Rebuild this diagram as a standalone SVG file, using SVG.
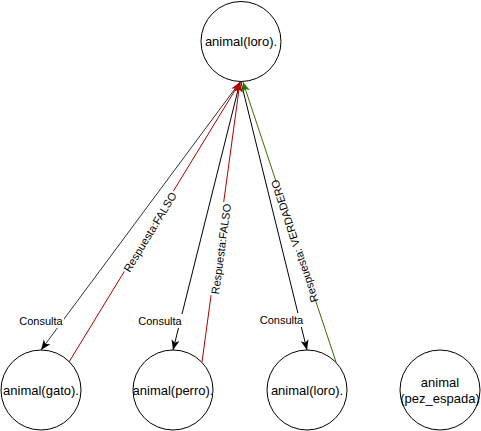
<svg xmlns="http://www.w3.org/2000/svg" width="481" height="431" viewBox="0 0 481 431">
<style>
.node{fill:#ffffff;stroke:#000000;stroke-width:1}
.t{font-family:"Liberation Sans",Arial,Helvetica,sans-serif;font-size:13px;fill:#000;text-anchor:middle;dominant-baseline:central}
.lbl{font-family:"Liberation Sans",Arial,Helvetica,sans-serif;font-size:11px;fill:#000;text-anchor:middle;dominant-baseline:central}
.e{fill:none;stroke-width:1}
.bg{fill:#ffffff;stroke:none}
</style>
<defs>
<marker id="aBlack" markerUnits="userSpaceOnUse" markerWidth="11" markerHeight="9" refX="10" refY="4" orient="auto"><path d="M0,0 L10,4 L0,8 L2.5,4 z" fill="#000"/></marker>
<marker id="aRed" markerUnits="userSpaceOnUse" markerWidth="11" markerHeight="9" refX="10" refY="4" orient="auto"><path d="M0,0 L10,4 L0,8 L2.5,4 z" fill="#b20000"/></marker>
<marker id="aGreen" markerUnits="userSpaceOnUse" markerWidth="11" markerHeight="9" refX="10" refY="4" orient="auto"><path d="M0,0 L10,4 L0,8 L2.5,4 z" fill="#2d7600"/></marker>
</defs>
<g id="connectors">
<g id="e-gato-q"><path class="e" d="M240,82 L41,350" stroke="#333333" marker-end="url(#aBlack)"/><rect class="bg" x="18" y="314" width="46" height="14"/><text class="lbl" x="41" y="321">Consulta</text></g>
<g id="e-perro-q"><path class="e" d="M240,82 L173,350" stroke="#000000" marker-end="url(#aBlack)"/><rect class="bg" x="138" y="314" width="45" height="14"/><text class="lbl" x="160" y="321">Consulta</text></g>
<g id="e-loro-q"><path class="e" d="M241,82 L307,350" stroke="#000000" marker-end="url(#aBlack)"/><rect class="bg" x="259" y="313" width="45" height="14"/><text class="lbl" x="281.5" y="320">Consulta</text></g>
<g id="e-gato-r"><path class="e" d="M69,362 L240,82" stroke="#b20000" marker-end="url(#aRed)"/><g transform="translate(150,232) rotate(-58.6)"><rect class="bg" x="-47" y="-7" width="94" height="14"/><text class="lbl" x="0" y="0">Respuesta:FALSO</text></g></g>
<g id="e-perro-r"><path class="e" d="M202,362 L240,82" stroke="#b20000" marker-end="url(#aRed)"/><g transform="translate(221,249) rotate(-82.3)"><rect class="bg" x="-47" y="-7" width="94" height="14"/><text class="lbl" x="0" y="0">Respuesta:FALSO</text></g></g>
<g id="e-loro-r"><path class="e" d="M336,362 L243,82" stroke="#2d7600" marker-end="url(#aGreen)"/><g transform="translate(294.5,241) rotate(-108.4)"><rect class="bg" x="-61" y="-7" width="122" height="14"/><text class="lbl" x="0" y="0">Respuesta: VERDADERO</text></g></g>
</g>
<g id="n-top"><circle class="node" cx="241" cy="41.5" r="40"/><text class="t" x="241" y="41.5">animal(loro).</text></g>
<g id="n-gato"><circle class="node" cx="41" cy="390" r="40"/><text class="t" x="41" y="390">animal(gato).</text></g>
<g id="n-perro"><circle class="node" cx="173" cy="390" r="40"/><text class="t" x="173" y="390">animal(perro).</text></g>
<g id="n-loro"><circle class="node" cx="307" cy="390" r="40"/><text class="t" x="307" y="390">animal(loro).</text></g>
<g id="n-pez"><circle class="node" cx="440" cy="390" r="40"/><text class="t" x="440" y="382">animal</text><text class="t" x="440" y="398">(pez_espada)</text></g>
</svg>
